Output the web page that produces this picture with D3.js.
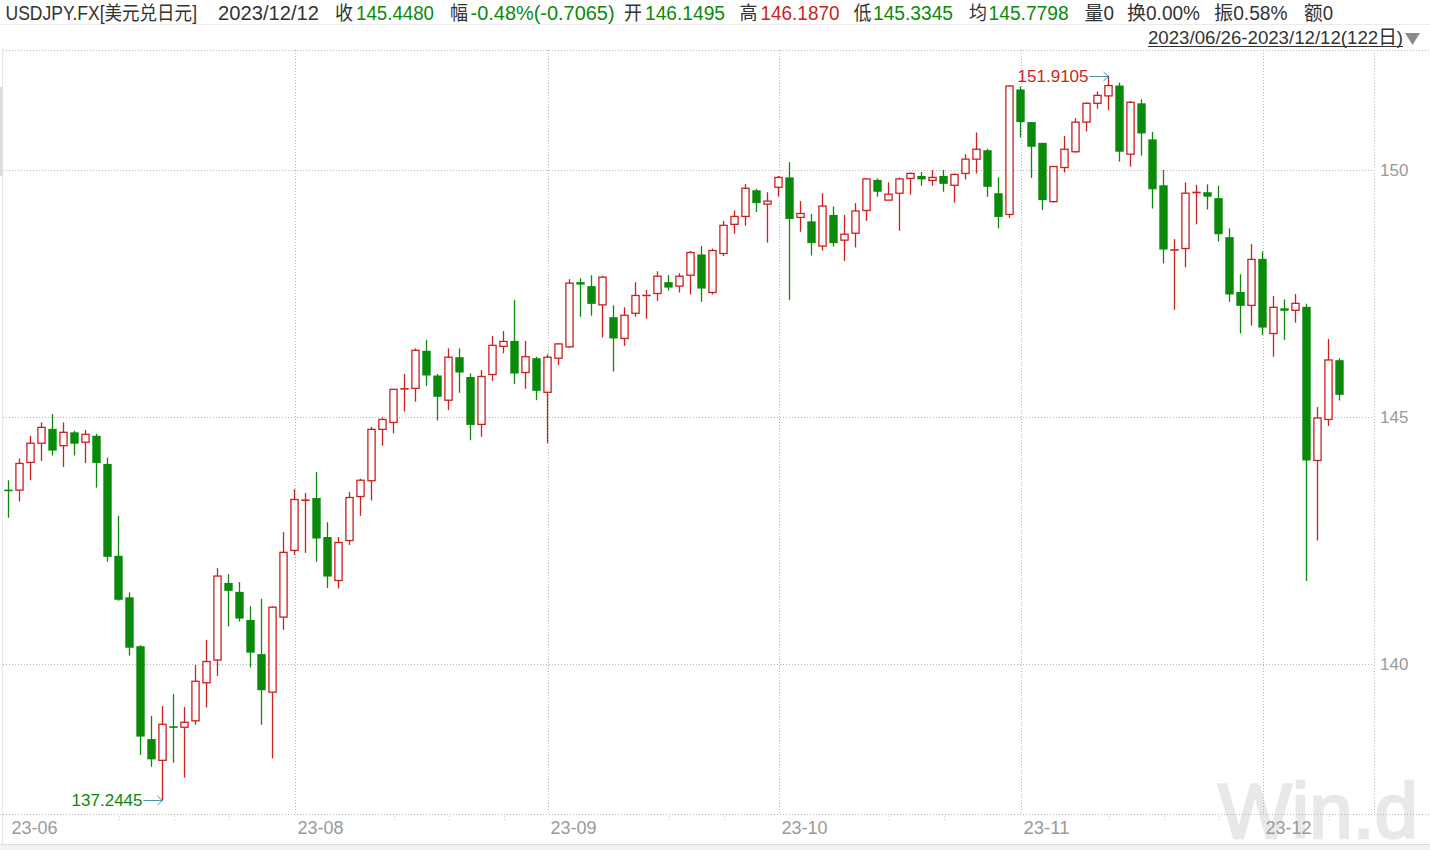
<!DOCTYPE html>
<html><head><meta charset="utf-8">
<script src="https://cdn.jsdelivr.net/npm/d3@7"></script>
<style>html,body{margin:0;padding:0;background:#fff;overflow:hidden}</style>
</head><body>
<svg id="chart" width="1430" height="850"></svg>
<script>
// ---------- data ----------
const startDate = "2023-06-26";
const endDate = "2023-12-12";
const open = [143.53,143.52,144.08,144.47,144.76,144.42,144.69,144.49,144.62,144.05,
  142.19,141.35,140.36,138.48,138.05,138.74,138.72,138.85,139.62,140.08,
  141.64,141.46,140.89,140.20,139.43,140.95,142.30,143.31,143.36,142.57,
  141.69,142.50,143.39,143.71,144.75,144.89,145.56,145.58,146.34,145.84,
  145.34,146.21,145.81,144.85,145.86,146.43,146.54,145.90,146.19,145.50,
  146.19,146.42,147.73,147.65,147.27,147.02,146.59,147.10,147.44,147.50,
  147.73,147.65,147.87,148.29,147.52,148.31,148.90,149.06,149.59,149.31,
  149.65,149.85,149.04,148.96,148.46,149.09,148.58,148.72,149.18,149.80,
  149.39,149.53,149.83,149.88,149.79,149.88,149.69,149.93,150.22,150.40,
  149.53,149.10,151.63,150.97,150.55,149.36,150.05,150.37,150.97,151.35,
  151.50,151.71,150.32,151.35,150.62,149.69,148.37,148.41,149.54,149.55,
  149.43,148.64,147.53,147.26,148.20,146.69,147.20,147.16,147.23,144.12,
  144.95,146.1495];
const high = [143.72,144.16,144.62,144.89,145.06,144.89,144.72,144.74,144.66,144.18,
  143.00,141.45,140.38,138.95,139.15,139.39,139.13,139.98,140.49,141.94,
  141.82,141.66,141.17,141.32,141.17,142.67,143.54,143.46,143.89,142.87,
  142.57,143.48,143.75,144.80,144.99,145.57,145.87,146.39,146.56,145.87,
  146.39,146.39,145.88,145.95,146.64,146.74,147.37,146.54,146.22,146.27,
  146.50,147.79,147.81,147.87,147.86,147.26,147.22,147.73,147.57,147.95,
  147.87,147.91,148.36,148.46,148.41,148.97,149.18,149.72,149.62,149.55,
  149.88,150.16,149.37,149.11,149.53,149.26,149.09,149.33,149.84,149.83,
  149.75,149.85,149.95,149.96,150.00,150.00,149.93,150.32,150.76,150.43,
  149.85,151.72,151.69,150.97,150.55,150.08,150.69,151.05,151.37,151.59,
  151.9105,151.77,151.40,151.43,150.77,150.00,148.60,149.75,149.70,149.71,
  149.68,148.82,147.89,148.50,148.35,147.45,147.38,147.49,147.29,145.20,
  146.58,146.1870];
const low = [142.96,143.29,143.72,144.11,144.22,143.99,144.22,144.07,143.57,142.07,
  141.28,140.17,138.16,137.92,137.2445,138.00,137.70,138.77,139.12,139.76,
  140.76,140.86,139.93,138.77,138.09,140.69,142.21,142.25,142.07,141.54,
  141.53,142.41,143.00,143.31,144.42,144.67,145.11,145.31,145.63,144.93,
  145.14,145.49,144.53,144.60,145.73,146.29,145.67,145.57,145.34,144.47,
  146.05,146.40,147.03,147.05,146.61,145.92,146.44,147.03,146.99,147.35,
  147.56,147.52,147.48,147.33,147.48,148.26,148.71,148.87,149.15,148.53,
  149.46,147.37,148.75,148.27,148.37,148.45,148.16,148.43,148.97,149.46,
  149.39,148.77,149.50,149.68,149.68,149.56,149.34,149.81,149.93,149.46,
  148.82,149.03,150.66,149.84,149.19,149.34,149.95,150.35,150.78,151.24,
  151.21,150.17,150.07,150.29,149.22,148.11,147.17,148.03,148.90,149.20,
  148.55,147.33,146.69,146.85,146.66,146.22,146.56,146.91,141.68,142.50,
  144.82,145.3345];
const close = [143.51,144.06,144.47,144.79,144.32,144.69,144.46,144.65,144.07,142.17,
  141.30,140.33,138.53,138.07,138.78,138.72,138.82,139.65,140.05,141.78,
  141.48,140.92,140.23,139.47,141.15,142.26,143.33,143.32,142.54,141.77,
  142.46,143.37,143.72,144.75,144.95,145.56,145.58,146.35,145.84,145.41,
  146.21,145.90,144.84,145.82,146.45,146.53,145.88,146.22,145.53,146.21,
  146.48,147.71,147.68,147.29,147.83,146.59,147.06,147.46,147.48,147.85,
  147.62,147.85,148.33,147.60,148.37,148.88,149.06,149.63,149.33,149.37,
  149.85,149.01,149.12,148.52,149.27,148.52,148.70,149.17,149.82,149.56,
  149.51,149.82,149.93,149.81,149.85,149.72,149.91,150.22,150.42,149.66,
  149.05,151.70,150.97,150.47,149.39,150.07,150.42,150.97,151.35,151.51,
  151.71,150.37,151.37,150.74,149.61,148.39,148.39,149.53,149.55,149.46,
  148.70,147.48,147.25,148.19,146.81,147.22,147.15,147.30,144.12,144.98,
  146.1545,145.4480];
const yTicks = [140, 145, 150];
const monthTicks = [["2023-06-26","23-06",false],["2023-08-01","23-08",true],["2023-09-01","23-09",true],
  ["2023-10-02","23-10",true],["2023-11-01","23-11",true],["2023-12-01","23-12",true]];
const weekTickDates = ["2023-07-10","2023-07-17","2023-07-24","2023-08-14","2023-08-21","2023-08-28",
  "2023-09-18","2023-09-25","2023-10-16","2023-10-23","2023-11-13","2023-11-20","2023-11-27","2023-12-11"];
const headerItems = [
  // [text, colorKey, startX, width]
  ["USDJPY.FX[美元兑日元]","dark",5.5,191.5],
  ["2023/12/12","dark",218,101],
  ["收","dark",335,18],["145.4480","green",356,78],
  ["幅","dark",450,18],["-0.48%(-0.7065)","green",470.6,144],
  ["开","dark",624,18],["146.1495","green",645,80],
  ["高","dark",739.6,18],["146.1870","red",760.5,79],
  ["低","dark",853.6,18],["145.3345","green",873,80],
  ["均","dark",969,18],["145.7798","green",988.6,80],
  ["量0","dark",1084.5,29.5],["换0.00%","dark",1127,73],
  ["振0.58%","dark",1214,73.5],["额0","dark",1304,29]
];
const rangeLabel = "2023/06/26-2023/12/12(122日)";

// ---------- setup ----------
const C = {red:"#cc1f1f", green:"#0a8a0a", dark:"#333333", grid:"#b4b4b4", axis:"#9a9a9a"};
const FONT = "'Liberation Sans','Noto Sans CJK SC',sans-serif";
const fmt = d3.timeFormat("%Y-%m-%d"), parse = d3.timeParse("%Y-%m-%d");
const dates = [];
for (let d = parse(startDate); d <= parse(endDate); d.setDate(d.getDate()+1)) {
  const w = d.getDay(); if (w > 0 && w < 6) dates.push(fmt(d));
}
const data = dates.map((d,i)=>({date:d, o:open[i], h:high[i], l:low[i], c:close[i]}));

const svg = d3.select("#chart");
const plotL = 3, plotR = 1374, plotT = 50, plotB = 814;
const x = d3.scaleBand().domain(dates).range([plotL, plotL + dates.length*11]);
const cx = d => x(d) + x.bandwidth()/2;
const y = d3.scaleLinear().domain([140,150]).range([664,170]);

// frame
svg.append("line").attr("x1",0).attr("x2",1430).attr("y1",24.5).attr("y2",24.5).attr("stroke","#ececec");
svg.append("line").attr("x1",2.5).attr("x2",2.5).attr("y1",47).attr("y2",850).attr("stroke","#e6e6e6");
svg.append("rect").attr("x",0).attr("y",87).attr("width",2.5).attr("height",89).attr("fill","#dcdcdc");
svg.append("rect").attr("x",0).attr("y",844.5).attr("width",1430).attr("height",6).attr("fill","#f2f2f2");
svg.append("line").attr("x1",0).attr("x2",1430).attr("y1",844.5).attr("y2",844.5).attr("stroke","#dddddd");

// watermark
svg.append("text").attr("x",1218).attr("y",838).attr("font-family","'Liberation Sans',sans-serif")
  .attr("font-size",78).attr("fill","#e8e8e8").attr("stroke","#e8e8e8").attr("stroke-width",2.5)
  .attr("textLength",200).attr("lengthAdjust","spacingAndGlyphs").text("Win.d");

// grid
const g = svg.append("g");
g.append("line").attr("x1",plotL).attr("x2",1430).attr("y1",plotT+0.5).attr("y2",plotT+0.5)
  .attr("stroke",C.grid).attr("stroke-dasharray","1,2");
g.append("line").attr("x1",0).attr("x2",1430).attr("y1",plotB+0.5).attr("y2",plotB+0.5)
  .attr("stroke",C.grid).attr("stroke-dasharray","1,2");
g.append("line").attr("x1",plotR+0.5).attr("x2",plotR+0.5).attr("y1",plotT).attr("y2",plotB)
  .attr("stroke",C.grid).attr("stroke-dasharray","1,2");
g.selectAll(".hg").data(yTicks).join("line")
  .attr("x1",plotL).attr("x2",plotR).attr("y1",d=>Math.round(y(d))+0.5).attr("y2",d=>Math.round(y(d))+0.5)
  .attr("stroke",C.grid).attr("stroke-dasharray","1,2");
g.selectAll(".vg").data(monthTicks.filter(m=>m[2])).join("line")
  .attr("x1",d=>Math.round(cx(d[0]))+0.5).attr("x2",d=>Math.round(cx(d[0]))+0.5)
  .attr("y1",plotT).attr("y2",plotB).attr("stroke",C.grid).attr("stroke-dasharray","1,2");
g.selectAll(".wt").data(weekTickDates).join("line")
  .attr("x1",d=>Math.round(cx(d))+0.5).attr("x2",d=>Math.round(cx(d))+0.5)
  .attr("y1",816).attr("y2",822).attr("stroke","#cfcfcf").attr("stroke-dasharray","1,2");

// y axis labels
svg.selectAll(".yl").data(yTicks).join("text")
  .attr("x",1380).attr("y",d=>y(d)).attr("dy","0.35em")
  .attr("font-family",FONT).attr("font-size",17).attr("fill",C.axis).text(d=>d);
// x axis labels
svg.selectAll(".xl").data(monthTicks).join("text")
  .attr("x",d=>cx(d[0])+3).attr("y",828).attr("dy","0.35em")
  .attr("font-family",FONT).attr("font-size",18).attr("fill",C.axis)
  .attr("textLength",46).attr("lengthAdjust","spacingAndGlyphs").text(d=>d[1]);

// candles
const cg = svg.append("g");
const bw = 8.4;
data.forEach(d => {
  const up = d.c >= d.o;
  const col = up ? C.red : C.green;
  const X = cx(d.date);
  const yt = y(Math.max(d.o,d.c)), yb = y(Math.min(d.o,d.c));
  if (up) {
    cg.append("line").attr("x1",X).attr("x2",X).attr("y1",y(d.h)).attr("y2",yt).attr("stroke",col).attr("stroke-width",1.3);
    cg.append("line").attr("x1",X).attr("x2",X).attr("y1",yb).attr("y2",y(d.l)).attr("stroke",col).attr("stroke-width",1.3);
    if (yb - yt < 2) {
      cg.append("line").attr("x1",X-bw/2).attr("x2",X+bw/2).attr("y1",(yt+yb)/2).attr("y2",(yt+yb)/2)
        .attr("stroke",col).attr("stroke-width",1.6);
    } else {
      cg.append("rect").attr("x",X-bw/2+0.6).attr("y",yt).attr("width",bw-1.2).attr("height",yb-yt)
        .attr("fill","#fff").attr("stroke",col).attr("stroke-width",1.3);
    }
  } else {
    cg.append("line").attr("x1",X).attr("x2",X).attr("y1",y(d.h)).attr("y2",y(d.l)).attr("stroke",col).attr("stroke-width",1.3);
    cg.append("rect").attr("x",X-bw/2).attr("y",yt).attr("width",bw).attr("height",Math.max(1.6,yb-yt)).attr("fill",col);
  }
});

// extreme annotations
const hiD = data[d3.maxIndex(data,d=>d.h)], loD = data[d3.minIndex(data,d=>d.l)];
function annot(d, val, color) {
  const X = cx(d.date), Y = Math.round(y(val)) + 0.5;
  svg.append("text").attr("x",X-20).attr("y",Y).attr("dy","0.35em").attr("text-anchor","end")
    .attr("font-family",FONT).attr("font-size",17).attr("fill",color).text(val.toFixed(4));
  svg.append("path").attr("d",`M${X-19},${Y}H${X}M${X-5},${Y-4.5}L${X},${Y}L${X-5},${Y+4.5}`)
    .attr("fill","none").attr("stroke","#4a8fa3").attr("stroke-width",1);
}
annot(hiD, hiD.h, C.red);
annot(loD, loD.l, C.green);

// header
svg.selectAll(".hd").data(headerItems).join("text")
  .attr("x",d=>d[2]).attr("y",19.5).attr("font-family",FONT).attr("font-size",19.5)
  .attr("fill",d=>C[d[1]]).attr("textLength",d=>d[3]).attr("lengthAdjust","spacingAndGlyphs").text(d=>d[0]);
svg.append("text").attr("x",1148).attr("y",43.5).attr("font-family",FONT).attr("font-size",19)
  .attr("fill",C.dark).attr("textLength",255).attr("lengthAdjust","spacingAndGlyphs").text(rangeLabel);
svg.append("line").attr("x1",1148).attr("x2",1403).attr("y1",46.5).attr("y2",46.5).attr("stroke",C.dark);
svg.append("path").attr("d","M1405,33H1420L1412.5,45Z").attr("fill","#8a8a8a");
</script>
</body></html>
